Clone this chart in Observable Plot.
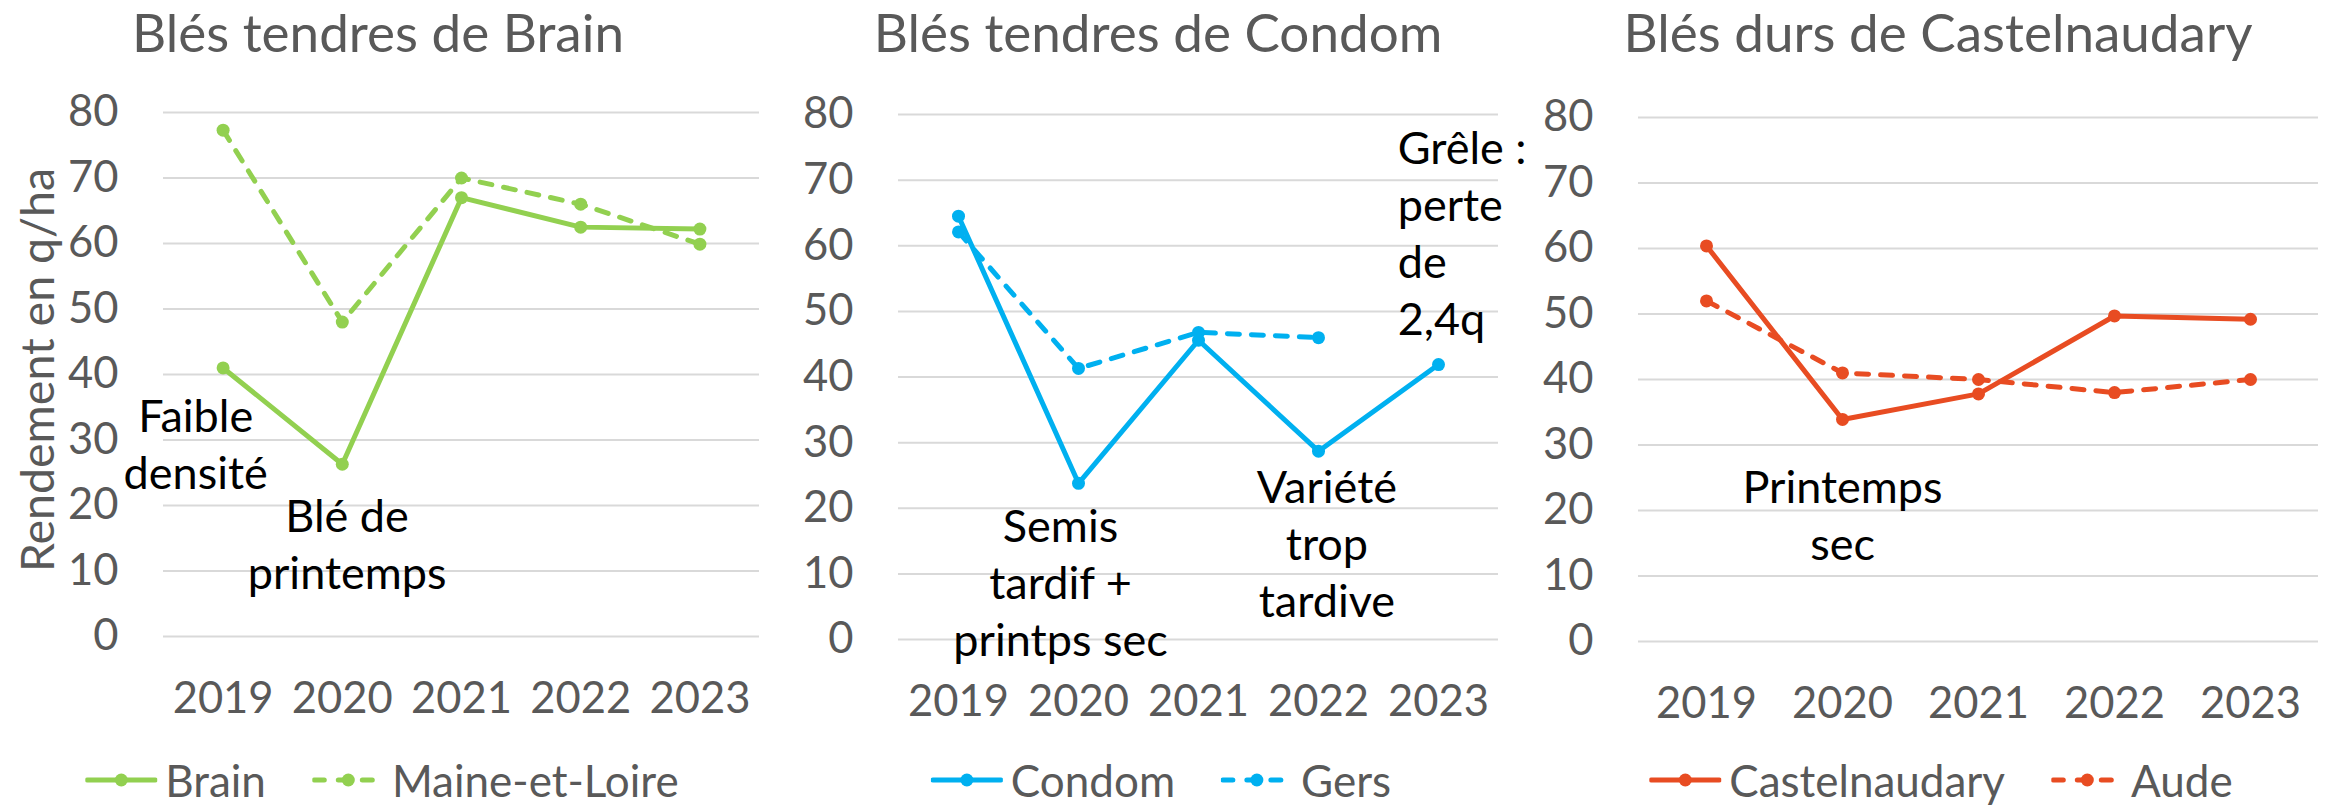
<!DOCTYPE html>
<html>
<head>
<meta charset="utf-8">
<script src="https://cdn.jsdelivr.net/npm/d3@7"></script>
<script src="https://cdn.jsdelivr.net/npm/@observablehq/plot@0.6"></script>
<style>
  html, body { margin: 0; padding: 0; background: #fff; }
  #page { position: relative; width: 2328px; height: 805px; overflow: hidden; font-family: Lato, sans-serif; }
  .title { position: absolute; top: 0px; transform: translateX(-50%); font-size: 53px; line-height: normal; color: #595959; white-space: nowrap; }
  .legend { position: absolute; top: 754px; transform: translateX(-50%); display: flex; align-items: center; font-size: 44px; line-height: normal; color: #595959; white-space: nowrap; }
  .legend .item { display: flex; align-items: center; }
  .legend .item + .item { margin-left: 46px; }
  .legend svg { margin-right: 8px; }
  .panel { position: absolute; top: 90px; }
</style>
</head>
<body>
<div id="page"></div>
<script>
// ---- data ----
const years = [2019, 2020, 2021, 2022, 2023];
const yTicks = [0, 10, 20, 30, 40, 50, 60, 70, 80];

const titles = ["Blés tendres de Brain", "Blés tendres de Condom", "Blés durs de Castelnaudary"];
const yLabel = "Rendement en q/ha";

// panel 1 : blés tendres
const brain = [41.0, 26.3, 67.0, 62.5, 62.2];
const maineEtLoire = [77.3, 48.0, 70.0, 66.0, 59.9];
// panel 2 : blés tendres
const condom = [64.5, 23.8, 45.6, 28.7, 41.9];
const gers = [62.1, 41.3, 46.8, 46.0, null];
// panel 3 : blés durs
const castelnaudary = [60.4, 33.9, 37.8, 49.7, 49.2];
const aude = [52.0, 41.0, 40.0, 38.0, 40.0];

const seriesNames = [["Brain", "Maine-et-Loire"], ["Condom", "Gers"], ["Castelnaudary", "Aude"]];
const colors = ["#92D050", "#00B0F0", "#E84C22"];

// annotations (anchored in data coordinates: year, rendement)
const notes1 = [
  {year: 2018.77, value: 37.4, text: "Faible\ndensité"},
  {year: 2020.04, value: 22.1, text: "Blé de\nprintemps"}
];
const notes2 = [
  {year: 2019.85, value: 21.0, text: "Semis\ntardif +\nprintps sec"},
  {year: 2022.07, value: 27.0, text: "Variété\ntrop\ntardive"}
];
const notes2b = [
  {year: 2022.66, value: 78.6, text: "Grêle :\nperte\nde\n2,4q"}
];
const notes3 = [
  {year: 2020.0, value: 27.3, text: "Printemps\nsec"}
];

// ---- helpers ----
const table = (vals) => years.map((year, i) => ({year, value: vals[i]}));

function panel({left, width, mt, mb, ml, mr, main, ref, color, notesCenter, notesStart, showYLabel, titleX, title, names, legendX}) {
  const page = document.getElementById("page");
  const dash = "12 12";
  const noteOpts = {x: "year", y: "value", text: "text", fill: "black", fontSize: 45, lineHeight: 1.267, lineAnchor: "top"};
  const marks = [
    Plot.gridY(yTicks, {stroke: "#D9D9D9", strokeOpacity: 1, strokeWidth: 2}),
    Plot.axisY({ticks: yTicks, tickSize: 0, tickPadding: 45, fontSize: 43.5, label: null}),
    Plot.axisX({ticks: years, tickFormat: d => String(d), tickSize: 0, tickPadding: 46, fontSize: 43.5, label: null}),
    Plot.line(table(ref), {x: "year", y: "value", stroke: color, strokeWidth: 5, strokeDasharray: dash, strokeLinecap: "round"}),
    Plot.dot(table(ref), {x: "year", y: "value", fill: color, r: 6.5}),
    Plot.line(table(main), {x: "year", y: "value", stroke: color, strokeWidth: 5}),
    Plot.dot(table(main), {x: "year", y: "value", fill: color, r: 6.5}),
    Plot.text(notesCenter, {...noteOpts, textAnchor: "middle"})
  ];
  if (notesStart) marks.push(Plot.text(notesStart, {...noteOpts, textAnchor: "start"}));
  if (showYLabel) marks.push(Plot.text([yLabel], {frameAnchor: "left", dx: -(ml - 20), dy: -4.5, rotate: -90, text: d => d,
    fontSize: 46.5, fill: "#595959", textAnchor: "middle", lineAnchor: "top"}));
  const svg = Plot.plot({
    width, height: 640,
    marginTop: mt, marginBottom: mb, marginLeft: ml, marginRight: mr,
    x: {domain: [2018.5, 2023.5], axis: null},
    y: {domain: [0, 80], axis: null},
    style: {fontFamily: "Lato, sans-serif", fontSize: "40px", color: "#595959", background: "transparent", overflow: "visible"},
    marks
  });
  const wrap = document.createElement("div");
  wrap.className = "panel";
  wrap.style.left = left + "px";
  wrap.appendChild(svg);
  page.appendChild(wrap);

  const t = document.createElement("div");
  t.className = "title";
  t.style.left = titleX + "px";
  t.textContent = title;
  page.appendChild(t);

  const lg = document.createElement("div");
  lg.className = "legend";
  lg.style.left = legendX + "px";
  names.forEach((name, k) => {
    const item = document.createElement("div");
    item.className = "item";
    const sw = `<svg width="72" height="16" viewBox="0 0 72 16"><line x1="2" y1="8" x2="70" y2="8" stroke="${color}" stroke-width="5" stroke-linecap="round" ${k ? 'stroke-dasharray="10 14"' : ''}/><circle cx="36" cy="8" r="6.5" fill="${color}"/></svg>`;
    item.innerHTML = sw + `<span>${name}</span>`;
    lg.appendChild(item);
  });
  page.appendChild(lg);
}

panel({left: 0, width: 780, mt: 22, mb: 94, ml: 163, mr: 21, main: brain, ref: maineEtLoire, color: colors[0],
  notesCenter: notes1, showYLabel: true, titleX: 378, title: titles[0], names: seriesNames[0], legendX: 382});
panel({left: 780, width: 770, mt: 24, mb: 91, ml: 118, mr: 52, main: condom, ref: gers, color: colors[1],
  notesCenter: notes2, notesStart: notes2b, showYLabel: false, titleX: 1158, title: titles[1], names: seriesNames[1], legendX: 1161});
panel({left: 1550, width: 778, mt: 27, mb: 89, ml: 88, mr: 10, main: castelnaudary, ref: aude, color: colors[2],
  notesCenter: notes3, showYLabel: false, titleX: 1938, title: titles[2], names: seriesNames[2], legendX: 1941});
</script>
</body>
</html>
